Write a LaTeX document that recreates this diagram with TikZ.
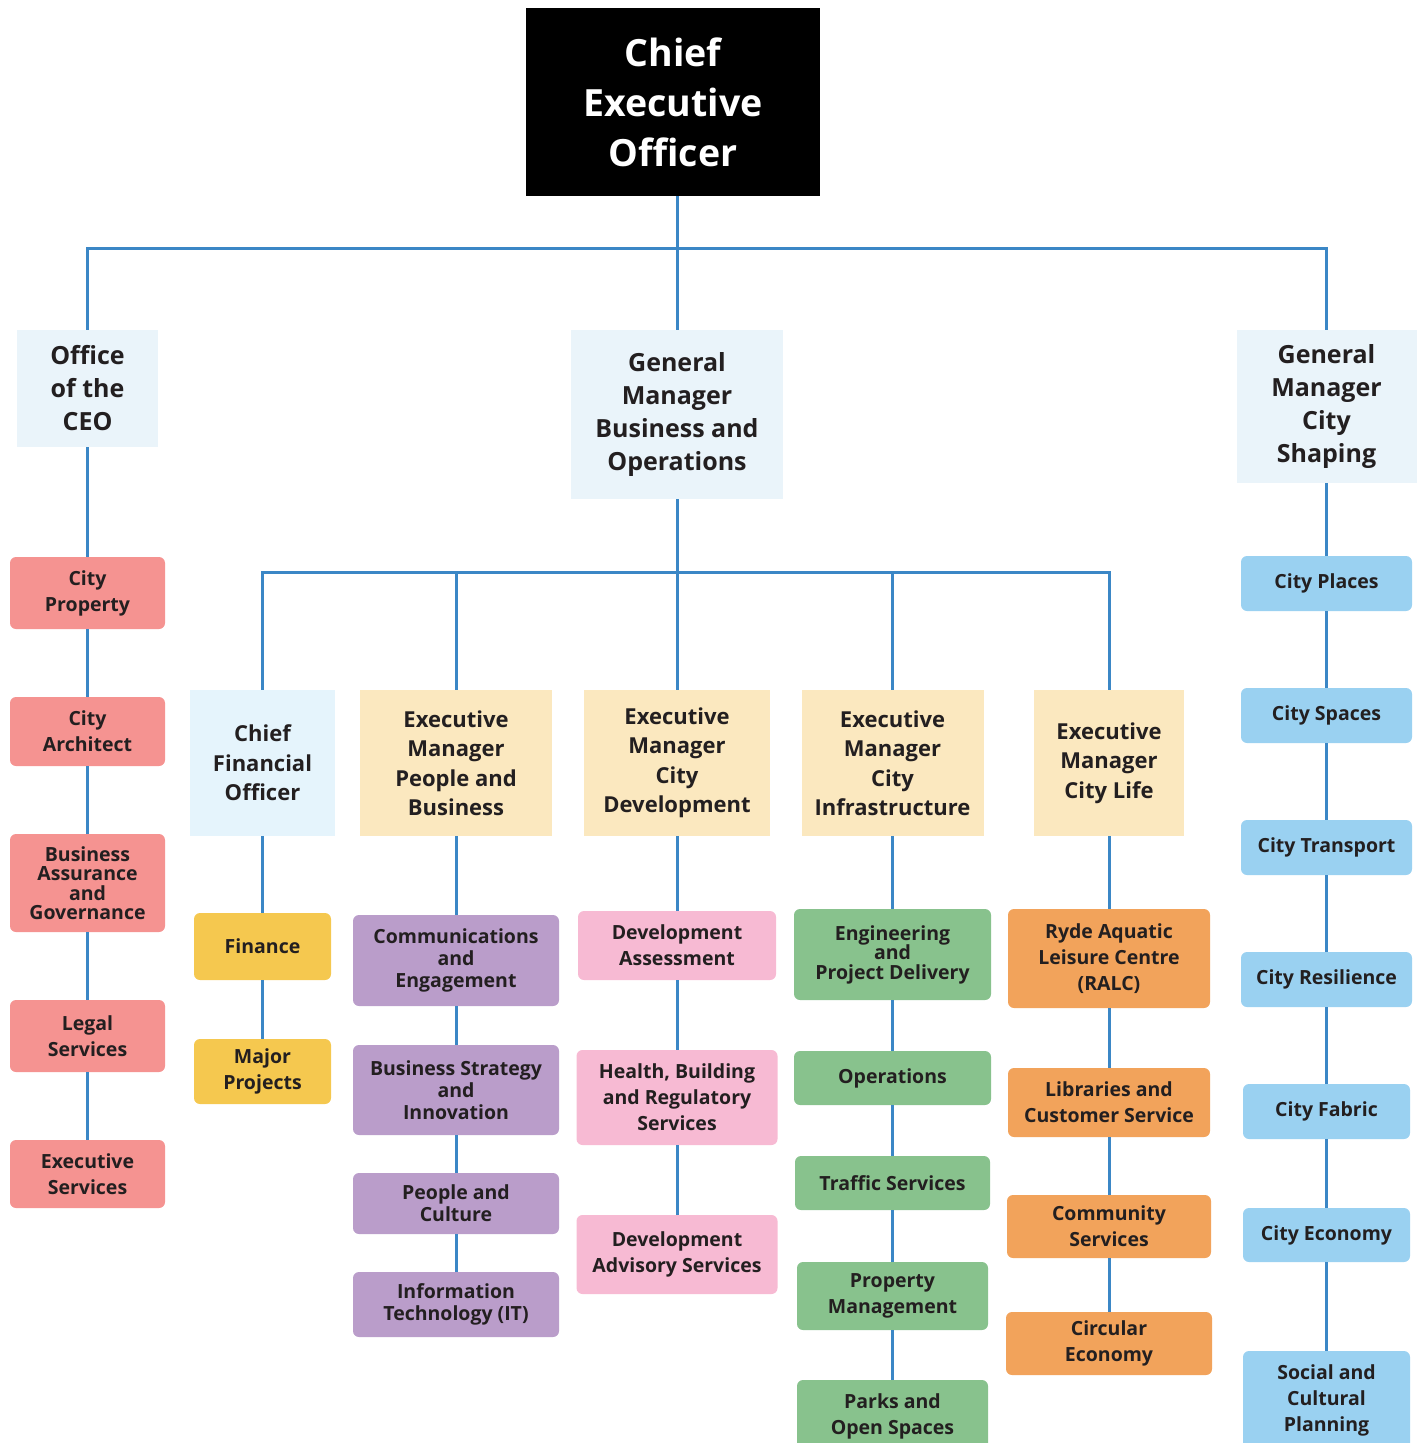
\documentclass[tikz,border=0pt]{standalone}
\usepackage{fontspec}
\setmainfont{Open Sans}
\definecolor{linkblue}{HTML}{3B87C6}
\definecolor{ink}{HTML}{231F20}
\definecolor{paleblue}{HTML}{EAF4FA}
\definecolor{cfoblue}{HTML}{E5F4FC}
\definecolor{cream}{HTML}{FBE8BF}
\definecolor{salmon}{HTML}{F59391}
\definecolor{mustard}{HTML}{F5C84F}
\definecolor{lilac}{HTML}{BA9DCA}
\definecolor{rose}{HTML}{F7BAD3}
\definecolor{sage}{HTML}{88C28D}
\definecolor{apricot}{HTML}{F2A35B}
\definecolor{skyblue}{HTML}{9AD1F1}

\begin{document}
\begin{tikzpicture}[x=1pt,y=-1pt,
	link/.style={draw=linkblue,line width=3pt},
	unit/.style={inner sep=0pt,align=center,text=ink,rounded corners=6pt,
		font=\bfseries\fontsize{19.5}{26}\selectfont},
	snug/.style={font=\bfseries\fontsize{19.5}{22}\selectfont},
	tight/.style={font=\bfseries\fontsize{19.5}{19.5}\selectfont},
	head/.style={inner sep=0pt,align=center,text=ink,fill=paleblue,
		font=\bfseries\fontsize{25}{33}\selectfont},
	exec/.style={inner sep=0pt,align=center,text=ink,fill=cream,
		minimum height=146,font=\bfseries\fontsize{22}{29.5}\selectfont}]
	\clip (0,0) rectangle (1419,1443);
	% top
	\node[fill=black,text=white,align=center,inner sep=0pt,minimum width=294,minimum height=188,
		font=\bfseries\fontsize{37.5}{50}\selectfont] (ceo) at (673,102) {Chief\\Executive\\Officer};
	\node[head,minimum width=141,minimum height=117] (office) at (87.5,388.5) {Office\\of the\\CEO};
	\node[head,minimum width=212,minimum height=169] (gmbo) at (677,414.5) {General\\Manager\\Business and\\Operations};
	\node[head,minimum width=180,minimum height=153] (gmcs) at (1326.5,406.5) {General\\Manager\\City\\Shaping};
	% office of the ceo
	\node[unit,fill=salmon,minimum width=155,minimum height=72] (cprop) at (87.5,593) {City\\Property};
	\node[unit,fill=salmon,minimum width=155,minimum height=69] (carch) at (87.5,731.5) {City\\Architect};
	\node[unit,tight,fill=salmon,minimum width=155,minimum height=98] (bag) at (87.5,883) {Business\\Assurance\\and\\Governance};
	\node[unit,fill=salmon,minimum width=155,minimum height=72] (legal) at (87.5,1036) {Legal\\Services};
	\node[unit,fill=salmon,minimum width=155,minimum height=68] (exsv) at (87.5,1174) {Executive\\Services};
	% business and operations
	\node[exec,fill=cfoblue,minimum width=145] (cfo) at (262.5,763) {Chief\\Financial\\Officer};
	\node[exec,minimum width=192] (empb) at (456,763) {Executive\\Manager\\People and\\Business};
	\node[exec,minimum width=186] (emcd) at (677,763) {Executive\\Manager\\City\\Development};
	\node[exec,minimum width=182] (emci) at (892.5,763) {Executive\\Manager\\City\\Infrastructure};
	\node[exec,minimum width=150] (emcl) at (1109,763) {Executive\\Manager\\City Life};
	\node[unit,fill=mustard,minimum width=137,minimum height=67] (fin) at (262.5,946.5) {Finance};
	\node[unit,fill=mustard,minimum width=137,minimum height=65] (majp) at (262.5,1071.5) {Major\\Projects};
	\node[unit,snug,fill=lilac,minimum width=206,minimum height=91] (comm) at (456,960.5) {Communications\\and\\Engagement};
	\node[unit,snug,fill=lilac,minimum width=206,minimum height=90] (bsi) at (456,1090) {Business Strategy\\and\\Innovation};
	\node[unit,snug,fill=lilac,minimum width=206,minimum height=61] (pc) at (456,1203.5) {People and\\Culture};
	\node[unit,snug,fill=lilac,minimum width=206,minimum height=65] (it) at (456,1304.5) {Information\\Technology (IT)};
	\node[unit,fill=rose,minimum width=198,minimum height=69] (da) at (677,945.5) {Development\\Assessment};
	\node[unit,fill=rose,minimum width=201,minimum height=95] (hbr) at (677,1097.5) {Health, Building\\and Regulatory\\Services};
	\node[unit,fill=rose,minimum width=201,minimum height=79] (das) at (677,1254.5) {Development\\Advisory Services};
	\node[unit,tight,fill=sage,minimum width=197,minimum height=91] (epd) at (892.5,954.5) {Engineering\\and\\Project Delivery};
	\node[unit,fill=sage,minimum width=197,minimum height=54] (ops) at (892.5,1078) {Operations};
	\node[unit,fill=sage,minimum width=195,minimum height=54] (traf) at (892.5,1183) {Traffic Services};
	\node[unit,fill=sage,minimum width=191,minimum height=68] (pm) at (892.5,1296) {Property\\Management};
	\node[unit,fill=sage,minimum width=191,minimum height=72] (pos) at (892.5,1416) {Parks and\\Open Spaces};
	\node[unit,fill=apricot,minimum width=202,minimum height=99] (ralc) at (1109,958.5) {Ryde Aquatic\\Leisure Centre\\(RALC)};
	\node[unit,fill=apricot,minimum width=202,minimum height=69] (lib) at (1109,1102.5) {Libraries and\\Customer Service};
	\node[unit,fill=apricot,minimum width=204,minimum height=63] (comsv) at (1109,1226.5) {Community\\Services};
	\node[unit,fill=apricot,minimum width=206,minimum height=63] (circ) at (1109,1343.5) {Circular\\Economy};
	% city shaping
	\node[unit,fill=skyblue,minimum width=171,minimum height=55] (places) at (1326.5,583.5) {City Places};
	\node[unit,fill=skyblue,minimum width=171,minimum height=55] (spaces) at (1326.5,715.5) {City Spaces};
	\node[unit,fill=skyblue,minimum width=171,minimum height=55] (transp) at (1326.5,847.5) {City Transport};
	\node[unit,fill=skyblue,minimum width=171,minimum height=55] (resil) at (1326.5,979.5) {City Resilience};
	\node[unit,fill=skyblue,minimum width=167,minimum height=55] (fabric) at (1326.5,1111.5) {City Fabric};
	\node[unit,fill=skyblue,minimum width=167,minimum height=54] (econ) at (1326.5,1235) {City Economy};
	\node[unit,fill=skyblue,minimum width=167,minimum height=98] (scp) at (1326.5,1400) {Social and\\Cultural\\Planning};
	% connectors
	\coordinate (bus1) at (677,248);
	\coordinate (bus2) at (677,572);
	\draw[link] (ceo.south -| bus1) -- (bus1);
	\draw[link] (office.north) |- (bus1) -| (gmcs.north);
	\draw[link] (bus1) -- (gmbo.north);
	\draw[link] (gmbo.south) -- (emcd.north);
	\draw[link] (cfo.north) |- (bus2) -| (emcl.north);
	\draw[link] (empb.north) -- (empb.north |- bus2);
	\draw[link] (emci.north) -- (emci.north |- bus2);
	\foreach \a/\b in {office/cprop,cprop/carch,carch/bag,bag/legal,legal/exsv,
		cfo/fin,fin/majp,empb/comm,comm/bsi,bsi/pc,pc/it,
		emcd/da,da/hbr,hbr/das,emci/epd,epd/ops,ops/traf,traf/pm,pm/pos,
		emcl/ralc,ralc/lib,lib/comsv,comsv/circ,
		gmcs/places,places/spaces,spaces/transp,transp/resil,resil/fabric,fabric/econ,econ/scp}
	\draw[link] (\a.south) -- (\b.north);
\end{tikzpicture}
\end{document}
